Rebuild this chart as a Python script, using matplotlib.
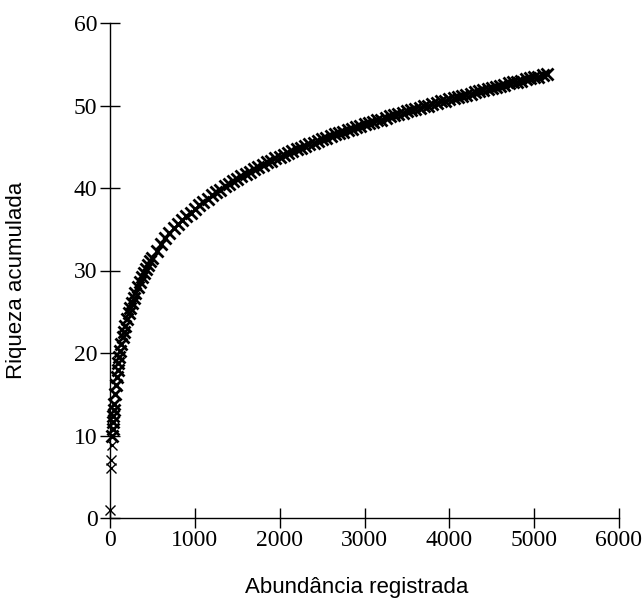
import matplotlib
matplotlib.use('Agg')
import matplotlib.pyplot as plt

# abundance (x) and accumulated richness (y)
abundancia = [1, 8, 12, 18, 25, 30, 35, 40, 45, 50, 60, 70, 80, 90, 100, 110, 120,
              135, 150, 165, 180, 200, 220, 240, 260, 280, 300, 325, 350, 375, 400,
              425, 450, 475, 500,
              550, 600, 650, 700, 750, 800, 850, 900, 950, 1000,
              1050, 1100, 1150, 1200, 1250, 1300, 1350, 1400, 1450, 1500,
              1550, 1600, 1650, 1700, 1750, 1800, 1850, 1900, 1950, 2000,
              2050, 2100, 2150, 2200, 2250, 2300, 2350, 2400, 2450, 2500,
              2550, 2600, 2650, 2700, 2750, 2800, 2850, 2900, 2950, 3000,
              3050, 3100, 3150, 3200, 3250, 3300, 3350, 3400, 3450, 3500,
              3550, 3600, 3650, 3700, 3750, 3800, 3850, 3900, 3950, 4000,
              4050, 4100, 4150, 4200, 4250, 4300, 4350, 4400, 4450, 4500,
              4550, 4600, 4650, 4700, 4750, 4800, 4850, 4900, 4950, 5000,
              5050, 5100, 5150]
riqueza = [1.0, 6.1, 7.0, 8.8, 10.0, 10.8, 11.6, 12.4, 13.1, 13.8, 15.0, 16.1, 17.1, 18.0, 18.8, 19.5, 20.2,
           21.1, 21.9, 22.6, 23.3, 24.1, 24.8, 25.5, 26.1, 26.7, 27.3, 28.0, 28.6, 29.2, 29.7,
           30.2, 30.7, 31.1, 31.5,
           32.4, 33.2, 33.9, 34.5, 35.1, 35.6, 36.1, 36.6, 37.0, 37.5,
           37.9, 38.3, 38.7, 39.1, 39.5, 39.8, 40.2, 40.5, 40.8, 41.1,
           41.4, 41.7, 42.0, 42.3, 42.6, 42.8, 43.1, 43.3, 43.6, 43.8,
           44.0, 44.3, 44.5, 44.7, 44.9, 45.1, 45.3, 45.5, 45.7, 45.9,
           46.1, 46.3, 46.5, 46.7, 46.8, 47.0, 47.2, 47.4, 47.5, 47.7,
           47.9, 48.0, 48.2, 48.3, 48.5, 48.7, 48.8, 49.0, 49.1, 49.3,
           49.4, 49.6, 49.7, 49.9, 50.0, 50.2, 50.3, 50.5, 50.6, 50.8,
           50.9, 51.0, 51.2, 51.3, 51.4, 51.6, 51.7, 51.9, 52.0, 52.1,
           52.3, 52.4, 52.5, 52.7, 52.8, 52.9, 53.0, 53.2, 53.3, 53.4,
           53.5, 53.7, 53.8]

x_ticks = [0, 1000, 2000, 3000, 4000, 5000, 6000]
y_ticks = [0, 10, 20, 30, 40, 50, 60]

fig = plt.figure(figsize=(6.43, 6.08), dpi=100)
ax = fig.add_axes([110 / 643, 90 / 608, 509 / 643, 495 / 608])

# first few points are thin, the rest overlap into a solid band
ax.plot(abundancia[:4], riqueza[:4], linestyle='none', marker='x', color='black',
        markersize=7, markeredgewidth=1.0, clip_on=False)
ax.plot(abundancia[4:], riqueza[4:], linestyle='none', marker='x', color='black',
        markersize=9, markeredgewidth=2.0, clip_on=False)

ax.set_xlim(0, 6000)
ax.set_ylim(0, 60)
ax.set_xticks(x_ticks)
ax.set_yticks(y_ticks)

for side in ['top', 'right']:
    ax.spines[side].set_visible(False)
for side in ['left', 'bottom']:
    ax.spines[side].set_linewidth(1.0)

ax.tick_params(direction='inout', length=14, width=1.0, pad=2, colors='black')
for lab in ax.get_xticklabels() + ax.get_yticklabels():
    lab.set_family('Liberation Serif')
    lab.set_fontsize(17)

fig.text(357 / 643, 1 - 588 / 608, 'Abundância registrada', ha='center', va='center',
         family='Liberation Sans', fontsize=16)
fig.text(17 / 643, 1 - 280 / 608, 'Riqueza acumulada', ha='center', va='center',
         rotation=90, family='Liberation Sans', fontsize=16)

fig.savefig('out.png', dpi=100)
